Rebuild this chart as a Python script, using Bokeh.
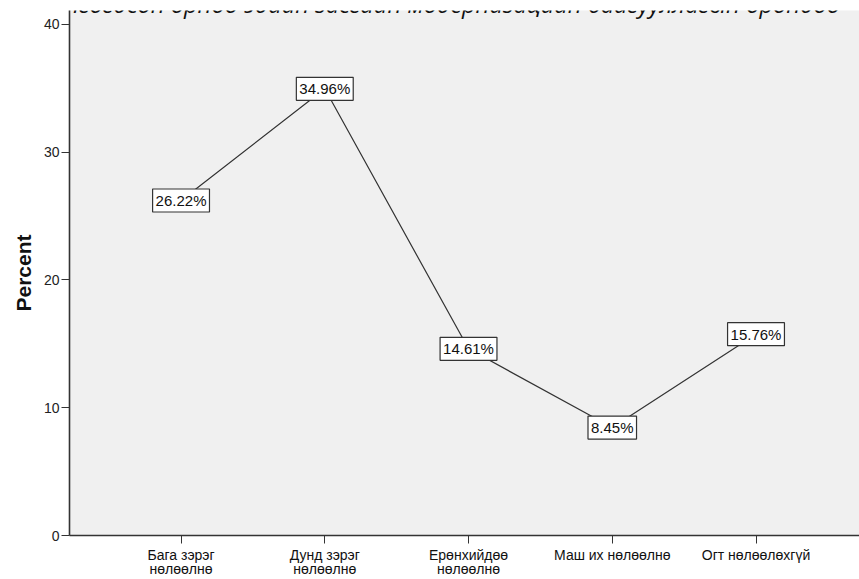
from bokeh.plotting import figure
from bokeh.models import Range1d, FixedTicker, ColumnDataSource, Label
from bokeh.core.properties import value
from bokeh.embed import file_html
from bokeh.resources import INLINE

categories = ["Бага зэрэг\nнөлөөлнө", "Дунд зэрэг\nнөлөөлнө", "Ерөнхийдөө\nнөлөөлнө",
              "Маш их нөлөөлнө", "Огт нөлөөлөхгүй"]
percents = [26.22, 34.96, 14.61, 8.45, 15.76]
y_ticks = [0, 10, 20, 30, 40]
title_text = "сонгогдсон орноо эдийн засгийн модернизацийн байгууллагын орондоо"

xs = list(range(len(categories)))
labels = ["%.2f%%" % v for v in percents]
src = ColumnDataSource(dict(x=xs, y=percents, t=labels))

x0, x1 = -0.776, 4.720
y0, y1 = 0, 41.09
px_per_unit = 527 / (y1 - y0)

p = figure(width=859, height=579, output_backend="svg", toolbar_location=None,
           x_range=Range1d(x0, x1), y_range=Range1d(y0, y1),
           min_border_left=69, min_border_top=10, min_border_right=0, min_border_bottom=42)
p.background_fill_color = "#f0f0f0"
p.border_fill_color = "white"
p.outline_line_color = None
p.xgrid.grid_line_color = None
p.ygrid.grid_line_color = None

p.line("x", "y", source=src, line_color="#333333", line_width=1.2)

p.text("x", "y", text="t", source=src, text_align="center", text_baseline="middle",
       text_font=value("Liberation Sans"), text_font_size="15px", text_color="#111111",
       background_fill_color="white", border_line_color="#333333", border_line_width=1.2,
       padding=3)

p.xaxis.ticker = FixedTicker(ticks=xs)
p.xaxis.major_label_overrides = {i: c for i, c in zip(xs, categories)}
p.xaxis.major_label_text_font = "Liberation Sans"
p.xaxis.major_label_text_font_size = "14px"
p.xaxis.major_label_text_line_height = 0.9
p.xaxis.major_label_text_color = "#111111"
p.xaxis.minor_tick_line_color = None
p.xaxis.major_tick_in = 0
p.xaxis.major_tick_out = 8
p.xaxis.major_label_standoff = 3

p.yaxis.ticker = FixedTicker(ticks=y_ticks)
p.yaxis.major_label_text_font = "Liberation Sans"
p.yaxis.major_label_text_font_size = "14px"
p.yaxis.major_label_text_color = "#222222"
p.yaxis.minor_tick_line_color = None
p.yaxis.major_tick_in = 0
p.yaxis.major_tick_out = 8
p.yaxis.major_label_standoff = 2
p.yaxis.axis_label = "Percent"
p.yaxis.axis_label_text_font = "Liberation Sans"
p.yaxis.axis_label_text_font_size = "21px"
p.yaxis.axis_label_text_font_style = "bold"
p.yaxis.axis_label_text_color = "#111111"
p.yaxis.axis_label_standoff = 6

for ax in (p.xaxis, p.yaxis):
    ax.axis_line_color = "#333333"
    ax.axis_line_width = 1.6
    ax.major_tick_line_color = "#333333"

title = Label(x=1.805, y=y1 + 7 / px_per_unit, text=title_text, text_align="center",
              text_baseline="alphabetic", text_font="Open Sans", text_font_size="23.5px",
              text_font_style="italic", text_color="#111111")
p.add_layout(title)

open("out.html", "w").write(file_html(p, INLINE))
